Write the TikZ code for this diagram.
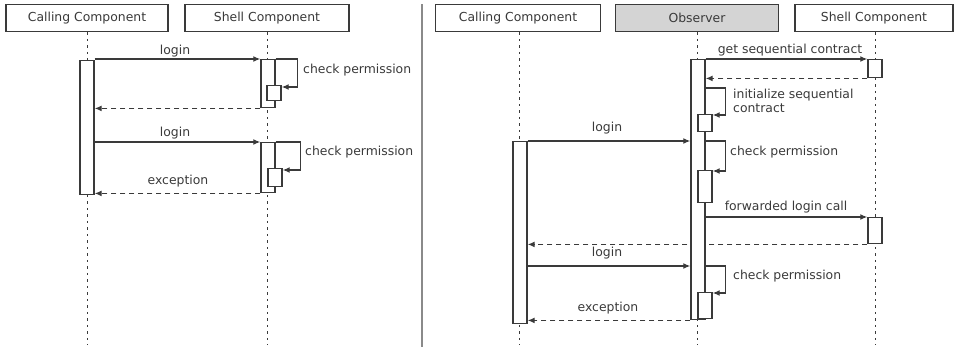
\documentclass[tikz,border=0pt]{standalone}
\usepackage{fontspec}
\setmainfont{DejaVu Sans}
\usetikzlibrary{arrows.meta}
\definecolor{ln}{HTML}{3A3A3A}
\definecolor{obsfill}{HTML}{D4D4D4}
\definecolor{divc}{HTML}{8A8A8A}
\tikzset{
  hdr/.style={draw=ln, line width=1.5pt, fill=white, minimum height=27pt, inner sep=0pt,
    font=\fontsize{12.4}{14}\selectfont, text=ln},
  life/.style={draw=ln, line width=1pt, dash pattern=on 2.5pt off 4pt},
  bar/.style={draw=ln, line width=1.4pt, fill=white, inner sep=0pt, minimum width=14pt, anchor=north},
  msg/.style={draw=ln, line width=1.3pt, -{Latex[length=7pt,width=6pt]}},
  ret/.style={msg, dash pattern=on 5pt off 4pt},
  lbl/.style={font=\fontsize{12.4}{14}\selectfont, text=ln, inner sep=0pt},
}
\begin{document}
\begin{tikzpicture}[x=1pt,y=-1pt]
\useasboundingbox (0,0) rectangle (959,349);
% divider
\draw[divc, line width=2pt] (422,4) -- (422,347);

% ---------------- left panel ----------------
\node[hdr, minimum width=162pt] (lcc) at (87,18) {Calling Component};
\node[hdr, minimum width=164pt] (lsc) at (267,18) {Shell Component};
\coordinate (lccend) at (87,345);
\coordinate (lscend) at (267,345);
\draw[life] (lcc.south) -- (lccend);
\draw[life] (lsc.south) -- (lscend);

\node[bar, minimum height=134pt] (cb) at (87,60) {};
\node[bar, minimum height=48pt] (sb1) at (268,59) {};
\node[bar, minimum height=15pt] (nb1) at (274,85) {};
\node[bar, minimum height=50pt] (sb2) at (268,142) {};
\node[bar, minimum height=18pt] (nb2) at (275,168) {};

\draw[msg] (cb.east |- sb1.north) -- (sb1.north west);
\draw[msg] (sb1.north east) -- ++(22,0) |- ([yshift=-2pt]nb1.north east);
\draw[ret] (sb1.south west) -- (cb.east |- sb1.south west);
\draw[msg] (cb.east |- sb2.north) -- (sb2.north west);
\draw[msg] (sb2.north east) -- ++(25,0) |- ([yshift=-2pt]nb2.north east);
\draw[ret] (sb2.south west) -- (cb.east |- sb2.south west);

\node[lbl] (ll1) at (175,51) {login};
\node[lbl, anchor=west] (lc1) at (303,70) {check permission};
\node[lbl] (ll2) at (175,133) {login};
\node[lbl, anchor=west] (lc2) at (305,152) {check permission};
\node[lbl] (le1) at (178,181) {exception};

% ---------------- right panel ----------------
\node[hdr, minimum width=165pt] (rcc) at (518,18) {Calling Component};
\node[hdr, minimum width=163pt, fill=obsfill] (obs) at (697,18) {Observer};
\node[hdr, minimum width=158pt] (rsc) at (874,18) {Shell Component};
\coordinate (rccend) at (519,345);
\coordinate (obsend) at (697,345);
\coordinate (rscend) at (875,345);
\draw[life] (rcc.south -| rccend) -- (rccend);
\draw[life] (obs.south) -- (obsend);
\draw[life] (rsc.south -| rscend) -- (rscend);

% long return crossing the observer bar (drawn behind it)
\node[bar, minimum height=182pt] (rcb) at (520,141) {};
\node[bar, minimum height=26pt] (ssb2) at (875,217) {};
\draw[ret] (ssb2.south west) -- (rcb.east |- ssb2.south west);

\node[bar, minimum height=260pt] (ob) at (698,59) {};
\node[bar, minimum height=18pt] (ssb1) at (875,59) {};
\node[bar, minimum height=17pt] (on1) at (705,114) {};
\node[bar, minimum height=32pt] (on2) at (705,170) {};
\node[bar, minimum height=26pt] (on3) at (705,292) {};

\draw[msg] (ob.north east) -- (ssb1.north west);
\draw[ret] (ssb1.south west) -- (ob.east |- ssb1.south west);
\draw[msg] (ob.east |- 0,88) -- ++(20,0) |- ([yshift=-1pt]on1.north east);
\draw[msg] (rcb.north east) -- (ob.west |- rcb.north east);
\draw[msg] (ob.east |- 0,141) -- ++(20,0) |- ([yshift=-1pt]on2.north east);
\draw[msg] (ob.east |- ssb2.north west) -- (ssb2.north west);
\draw[msg] (rcb.east |- 0,266) -- (ob.west |- 0,266);
\draw[msg] (ob.east |- 0,266) -- ++(20,0) |- ([yshift=-1pt]on3.north east);
\draw[ret] (ob.south west) -- (rcb.east |- ob.south west);

\node[lbl] (rg) at (790,50) {get sequential contract};
\node[lbl, anchor=west, align=left] (ri) at (733,101) {initialize sequential\\contract};
\node[lbl] (rl1) at (607,128) {login};
\node[lbl, anchor=west] (rc1) at (730,152) {check permission};
\node[lbl] (rf) at (786,207) {forwarded login call};
\node[lbl] (rl2) at (607,253) {login};
\node[lbl, anchor=west] (rc2) at (733,276) {check permission};
\node[lbl] (re) at (608,308) {exception};
\end{tikzpicture}
\end{document}
